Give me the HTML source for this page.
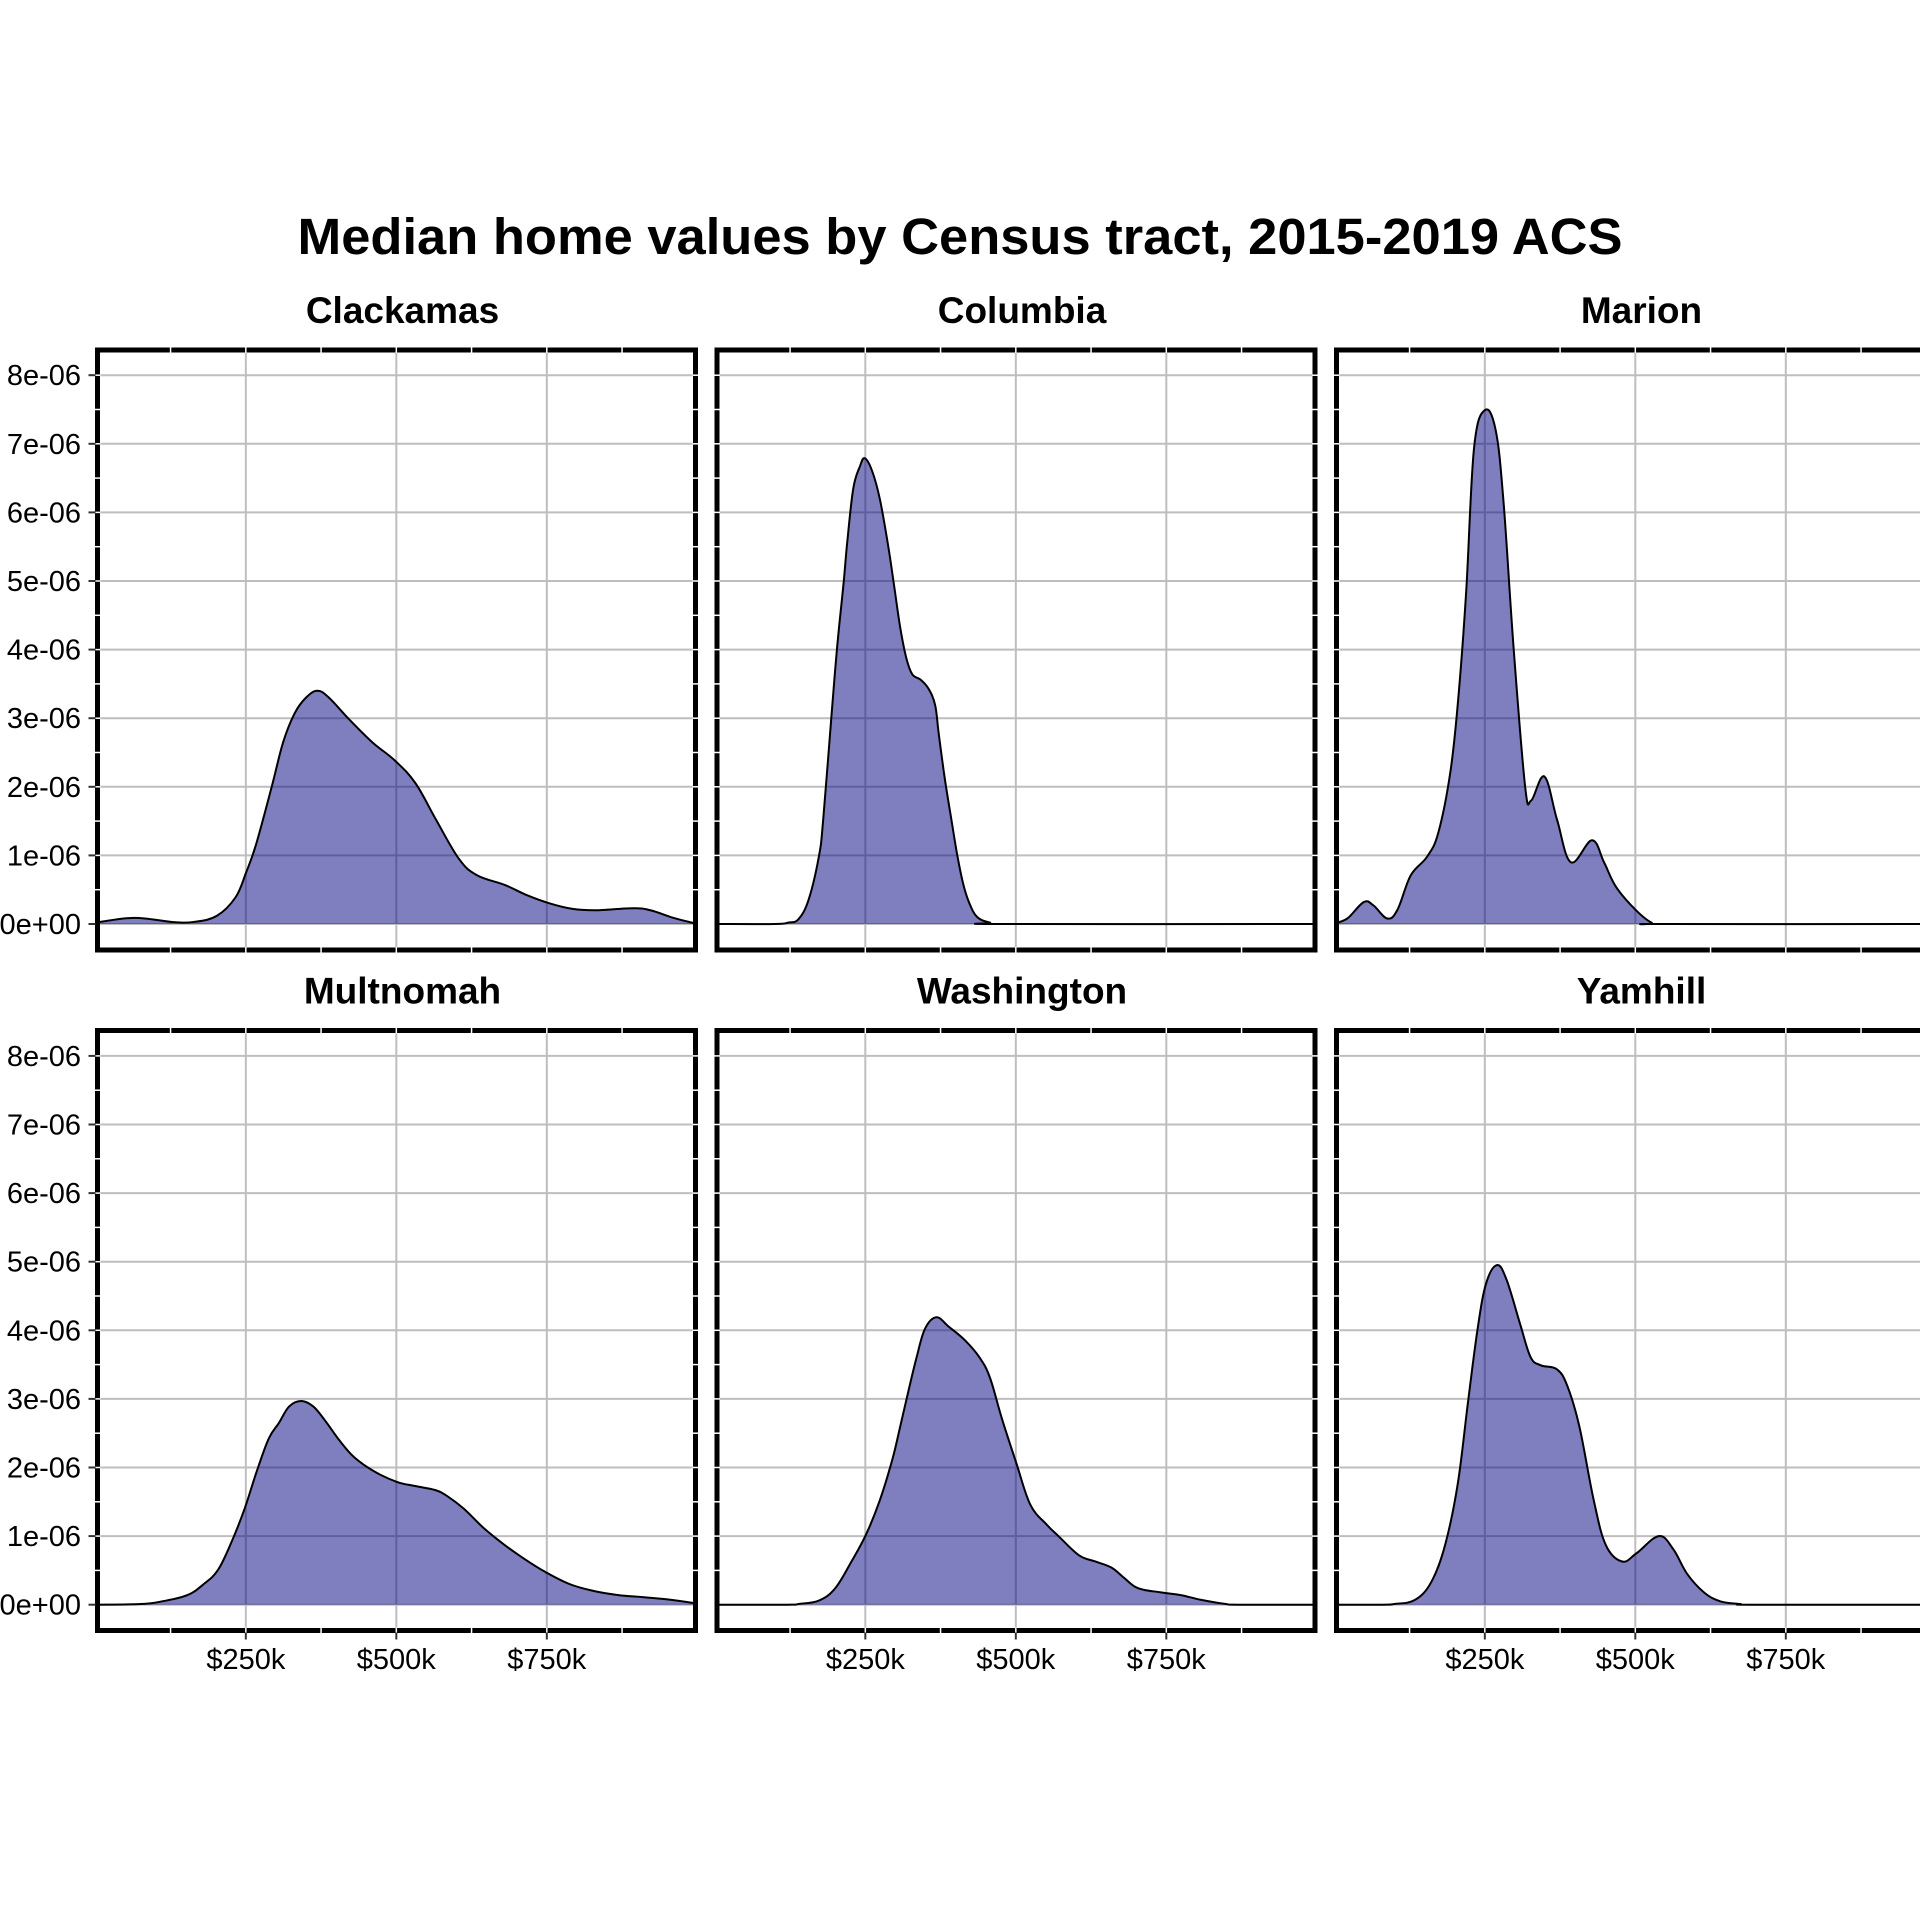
<!DOCTYPE html>
<html><head><meta charset="utf-8"><style>
html,body{margin:0;padding:0;background:#fff;}
svg{display:block;font-family:"Liberation Sans",Arial,sans-serif;}
</style></head><body>
<svg id="chart" width="1920" height="1920" viewBox="0 0 1920 1920">
<rect width="1920" height="1920" fill="#fff"/>
<text x="960" y="254" text-anchor="middle" font-weight="bold" font-size="51" textLength="1325" lengthAdjust="spacingAndGlyphs">Median home values by Census tract, 2015-2019 ACS</text>
<g id="panels"></g>
</svg>
<script>
const counties = ["Clackamas","Columbia","Marion","Multnomah","Washington","Yamhill"];
const yTicks = [0,1,2,3,4,5,6,7,8];
const yTickLabels = ["0e+00","1e-06","2e-06","3e-06","4e-06","5e-06","6e-06","7e-06","8e-06"];
const xTicks = [250,500,750];
const xTickLabels = ["$250k","$500k","$750k"];
// home value in $k, density in 1e-06
const clackamasX = [4,8,66,127,164,202,233,250,267,293,312,331,350,369,388,422,460,498,532,566,604,634,680,717,755,793,831,892,922,960,991,997];
const clackamasY = [0.02,0.03,0.09,0.03,0.03,0.12,0.39,0.74,1.16,2.0,2.65,3.07,3.3,3.4,3.3,2.98,2.65,2.38,2.05,1.52,0.95,0.71,0.57,0.42,0.3,0.22,0.2,0.23,0.2,0.09,0.02,0.01];
const columbiaX = [4,100,122,139,156,173,180,193,203,214,220,230,241,249,261,274,288,298,308,318,328,342,355,366,372,382,393,403,413,423,436,457,480,997];
const columbiaY = [0,0,0.02,0.07,0.36,0.99,1.52,2.95,4.02,4.98,5.57,6.35,6.67,6.79,6.61,6.2,5.51,4.92,4.32,3.88,3.64,3.56,3.43,3.19,2.77,2.12,1.52,0.99,0.57,0.3,0.1,0.02,0,0];
const marionX = [4,6,23,49,65,88,105,127,154,173,193,206,219,232,250,268,281,298,317,327,349,370,393,428,448,468,500,527,550,997];
const marionY = [0,0.02,0.09,0.32,0.27,0.08,0.21,0.71,0.98,1.34,2.23,3.3,4.84,6.93,7.49,7.2,6.16,4.0,2.0,1.8,2.15,1.52,0.9,1.22,0.9,0.54,0.21,0.02,0,0];
const multnomahX = [4,75,112,153,180,204,227,248,268,288,305,322,342,362,382,406,430,464,501,531,565,585,612,646,680,714,747,788,828,869,909,957,997];
const multnomahY = [0,0.01,0.05,0.14,0.3,0.51,0.93,1.4,1.94,2.42,2.65,2.89,2.97,2.89,2.68,2.39,2.15,1.94,1.79,1.73,1.67,1.58,1.4,1.11,0.87,0.66,0.48,0.3,0.2,0.14,0.11,0.07,0.02];
const washingtonX = [4,120,139,173,200,227,251,274,295,308,322,335,349,368,389,416,440,457,477,501,524,551,572,605,632,659,680,703,741,774,808,849,870,997];
const washingtonY = [0,0,0.01,0.06,0.24,0.63,1.02,1.52,2.12,2.6,3.13,3.6,4.02,4.19,4.05,3.85,3.6,3.31,2.71,2.06,1.46,1.17,0.99,0.72,0.63,0.54,0.39,0.24,0.18,0.14,0.07,0.01,0,0];
const yamhillX = [4,80,100,134,161,184,205,222,238,252,270,286,309,326,343,370,387,407,431,451,478,502,539,563,586,614,641,674,700,997];
const yamhillY = [0,0,0.01,0.07,0.33,0.87,1.76,2.95,4.02,4.68,4.95,4.74,4.08,3.61,3.49,3.43,3.19,2.6,1.52,0.87,0.63,0.75,1.0,0.81,0.45,0.18,0.05,0.01,0,0];
const seriesX = [clackamasX,columbiaX,marionX,multnomahX,washingtonX,yamhillX];
const seriesY = [clackamasY,columbiaY,marionY,multnomahY,washingtonY,yamhillY];

const NS="http://www.w3.org/2000/svg";
const root=document.getElementById('panels');
const colLeft=[97.5,717,1336.5], rowTop=[350,1030.5], PW=598, PH=600;
const xMin=3.6, xMax=997;
const yZero=[924,1604.7], yUnit=68.6;
function mk(tag,attrs,parent){const e=document.createElementNS(NS,tag);for(const k in attrs)e.setAttribute(k,attrs[k]);(parent||root).appendChild(e);return e;}
function sx(c,v){return colLeft[c]+(v-xMin)/(xMax-xMin)*PW;}
function sy(r,v){return yZero[r]-v*yUnit;}
function smooth(pts){
  let d="M"+pts[0][0].toFixed(2)+","+pts[0][1].toFixed(2);
  for(let i=0;i<pts.length-1;i++){
    const p0=pts[Math.max(0,i-1)],p1=pts[i],p2=pts[i+1],p3=pts[Math.min(pts.length-1,i+2)];
    const t=0.18;
    const c1=[p1[0]+(p2[0]-p0[0])*t,p1[1]+(p2[1]-p0[1])*t];
    const c2=[p2[0]-(p3[0]-p1[0])*t,p2[1]-(p3[1]-p1[1])*t];
    d+=" C"+c1[0].toFixed(2)+","+c1[1].toFixed(2)+" "+c2[0].toFixed(2)+","+c2[1].toFixed(2)+" "+p2[0].toFixed(2)+","+p2[1].toFixed(2);
  }
  return d;
}
counties.forEach((name,i)=>{
  const c=i%3, r=Math.floor(i/3);
  const g=mk('g',{});
  
  
  const L=colLeft[c],T=rowTop[r];
  const cp=mk('clipPath',{id:'clip'+i},g);
  mk('rect',{x:L,y:T,width:PW,height:PH},cp);
  const grid=mk('g',{stroke:'#bebebe','stroke-width':2},g);
  
  
  yTicks.forEach(v=>mk('line',{x1:L,x2:L+PW,y1:sy(r,v),y2:sy(r,v)},grid));
  xTicks.forEach(v=>mk('line',{x1:sx(c,v),x2:sx(c,v),y1:T,y2:T+PH},grid));
  const pts=seriesX[i].map((x,k)=>[sx(c,x),sy(r,seriesY[i][k])]);
  const line=smooth(pts);
  const area=mk('path',{d:line+" L"+pts[pts.length-1][0]+","+sy(r,0)+" L"+pts[0][0]+","+sy(r,0)+" Z",fill:'#00007f','fill-opacity':0.5,'clip-path':'url(#clip'+i+')'},g);
  
  
  const ln=mk('path',{d:line,fill:'none',stroke:'#000','stroke-width':2,'clip-path':'url(#clip'+i+')'},g);
  
  
  const b=mk('rect',{x:L,y:T,width:PW,height:PH,fill:'none',stroke:'#000','stroke-width':5},g);
  
  
  const notch=mk('g',{stroke:'#fff','stroke-width':1.5},g);
  for(let v=125;v<1000;v+=125){const x=sx(c,v);mk('line',{x1:x,x2:x,y1:T-3,y2:T+3},notch);mk('line',{x1:x,x2:x,y1:T+PH-3,y2:T+PH+3},notch);}
  for(let v=0.5;v<=8;v+=0.5){const y=sy(r,v);mk('line',{x1:L-3,x2:L+3,y1:y,y2:y},notch);mk('line',{x1:L+PW-3,x2:L+PW+3,y1:y,y2:y},notch);}
  const st=mk('text',{x:L+PW/2+6,y:T-27,'text-anchor':'middle','font-weight':'bold','font-size':37},g);
  st.textContent=name;
  
  
  if(c===0){
    yTicks.forEach((v,k)=>{
      mk('line',{x1:L-9,x2:L-2,y1:sy(r,v),y2:sy(r,v),stroke:'#333','stroke-width':2},g);
      const t=mk('text',{x:81,y:sy(r,v)+10,'text-anchor':'end','font-size':29},g);
      t.textContent=yTickLabels[k];
      
      
    });
  }
  if(r===1){
    xTicks.forEach((v,k)=>{
      mk('line',{x1:sx(c,v),x2:sx(c,v),y1:T+PH+2,y2:T+PH+9,stroke:'#333','stroke-width':2},g);
      const t=mk('text',{x:sx(c,v),y:1669,'text-anchor':'middle','font-size':29},g);
      t.textContent=xTickLabels[k];
      
      
    });
  }
});
</script>
</body></html>
